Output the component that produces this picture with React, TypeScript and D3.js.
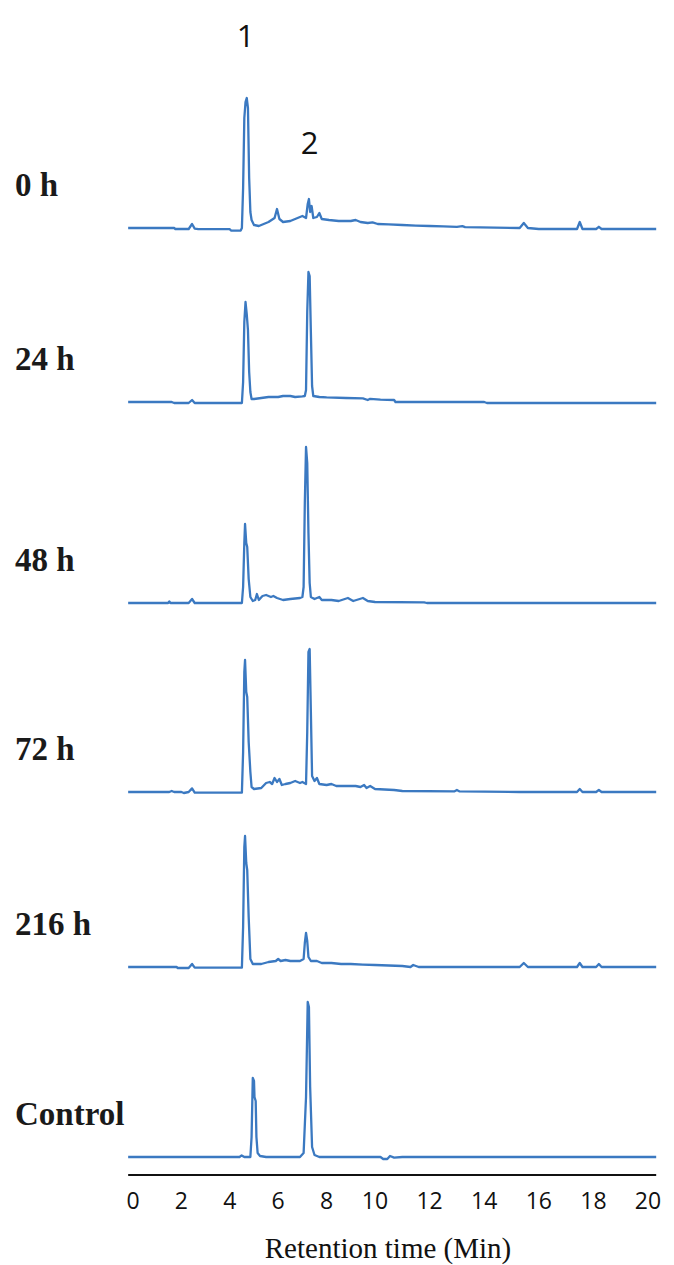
import * as d3 from "d3";

// retention time (min) / signal (mAU) pairs, one array per sample
const trace0h: [number, number][] = [
  [-0.2, 0], [1.7, 0], [1.75, -0.5], [2.3, -0.5], [2.44, 2], [2.55, -0.3], [2.7, -0.6],
  [4.0, -0.6], [4.05, -1.3], [4.45, -1.3], [4.5, 0], [4.55, 20], [4.6, 55], [4.65, 63],
  [4.7, 65], [4.75, 60], [4.8, 25], [4.85, 8], [4.9, 4], [5.0, 1.5], [5.2, 1], [5.4, 2],
  [5.6, 3], [5.85, 5], [5.95, 9.5], [6.05, 4.5], [6.2, 3], [6.5, 3.5], [6.8, 5], [7.0, 6],
  [7.15, 5], [7.22, 12], [7.27, 14.5], [7.32, 8], [7.38, 11], [7.45, 5], [7.6, 5.5],
  [7.7, 7.5], [7.8, 4.5], [8.1, 4], [8.5, 3.5], [9.0, 3.5], [9.2, 4], [9.4, 3], [9.7, 2.5],
  [9.9, 2.8], [10.1, 2], [10.5, 1.8], [11, 1.5], [11.5, 1.2], [12, 1], [12.5, 0.8],
  [13, 0.6], [13.2, 0.9], [13.3, 0.4], [15.3, 0], [15.45, 2.5], [15.6, 0], [16.0, -0.5],
  [17.4, -0.5], [17.5, 3], [17.6, -0.5], [18.1, -0.5], [18.2, 0.6], [18.3, -0.5], [20.3, -0.5],
];

const trace24h: [number, number][] = [
  [-0.2, 0], [1.6, 0], [1.7, -0.5], [2.3, -0.5], [2.44, 1], [2.55, -0.5], [4.5, -0.5],
  [4.55, 10], [4.6, 40], [4.65, 50], [4.7, 44], [4.75, 36], [4.8, 15], [4.85, 5], [4.9, 1.5],
  [5.0, 1.5], [5.3, 2], [5.6, 2.5], [6.0, 2.5], [6.2, 3], [6.5, 3], [6.7, 2.5], [7.0, 2.8],
  [7.1, 3], [7.15, 6], [7.2, 45], [7.25, 65], [7.3, 63], [7.35, 35], [7.4, 8], [7.45, 3],
  [7.7, 2.5], [8.0, 2.3], [8.8, 2], [9.5, 1.8], [9.7, 1], [9.8, 1.6], [10.2, 1.2],
  [10.7, 1], [10.75, 0], [14.0, 0], [14.1, -0.5], [20.3, -0.5],
];

const trace48h: [number, number][] = [
  [-0.2, 0], [1.45, 0], [1.5, 0.8], [1.55, 0], [2.3, 0], [2.44, 2], [2.55, 0], [4.5, 0],
  [4.55, 8], [4.6, 30], [4.63, 39.5], [4.68, 30], [4.72, 28], [4.78, 12], [4.85, 3],
  [4.95, 1], [5.05, 1.5], [5.12, 4.5], [5.2, 1.5], [5.35, 3.5], [5.5, 4], [5.7, 3],
  [5.8, 3.5], [5.95, 2.5], [6.2, 1.5], [6.5, 2], [6.9, 2.5], [7.0, 3], [7.05, 8],
  [7.1, 50], [7.15, 78], [7.2, 70], [7.25, 35], [7.3, 10], [7.35, 3], [7.5, 2],
  [7.7, 3], [7.8, 1.5], [8.2, 1.5], [8.5, 1], [8.88, 2.5], [9.1, 1], [9.5, 2.5],
  [9.7, 1], [10, 0.5], [11.8, 0.3], [11.9, 0], [20.3, 0],
];

const trace72h: [number, number][] = [
  [-0.2, 0], [1.5, 0], [1.6, 0.5], [1.7, 0], [2.0, 0], [2.1, -0.5], [2.3, 0], [2.44, 1.8],
  [2.55, -0.3], [4.5, -0.3], [4.55, 20], [4.6, 60], [4.63, 66], [4.68, 50], [4.72, 47.5],
  [4.78, 25], [4.85, 10], [4.9, 2.5], [5.0, 1.5], [5.3, 2], [5.5, 4.5], [5.65, 5],
  [5.75, 4], [5.85, 7], [5.95, 5], [6.05, 6.5], [6.15, 3.5], [6.3, 4], [6.5, 4.5],
  [6.7, 5.5], [6.9, 4.5], [7.0, 5], [7.15, 4], [7.2, 30], [7.25, 70], [7.3, 71.5],
  [7.35, 40], [7.4, 8], [7.5, 5.5], [7.6, 7], [7.7, 4], [8.0, 3.5], [8.2, 4], [8.4, 3],
  [8.8, 3], [9.2, 3], [9.4, 2.5], [9.55, 3.5], [9.65, 2], [9.8, 3], [10.0, 1.5],
  [10.7, 1], [11.0, 0.5], [12.9, 0.3], [13.0, 1], [13.1, 0.3], [15.3, 0], [17.4, 0],
  [17.5, 1.5], [17.6, 0], [18.1, 0], [18.2, 1], [18.3, 0], [20.3, 0],
];

const trace216h: [number, number][] = [
  [-0.2, 0], [1.8, 0], [1.85, -0.5], [2.3, -0.5], [2.44, 1.5], [2.55, -0.3], [4.5, -0.3],
  [4.55, 20], [4.6, 60], [4.63, 65.5], [4.68, 52], [4.72, 48.5], [4.78, 25], [4.85, 4],
  [4.95, 1.5], [5.3, 1.5], [5.6, 2.5], [5.9, 3], [6.0, 4], [6.1, 3], [6.3, 3.5],
  [6.5, 3], [6.9, 3], [7.05, 4], [7.1, 12], [7.15, 17], [7.2, 13], [7.25, 5], [7.35, 3],
  [7.6, 3], [7.8, 2], [8.2, 2], [8.6, 1.5], [9.0, 1.5], [9.5, 1.2], [10.0, 1], [11.0, 0.5],
  [11.3, 0], [11.4, 1], [11.6, 0], [15.3, 0], [15.45, 2], [15.6, 0], [17.4, 0],
  [17.5, 2], [17.6, 0], [18.1, 0], [18.2, 1.5], [18.3, 0], [20.3, 0],
];

const traceControl: [number, number][] = [
  [-0.2, 0], [4.4, 0], [4.49, 0.8], [4.6, 0], [4.85, 0], [4.9, 10], [4.95, 39.5],
  [5.0, 38], [5.02, 30], [5.07, 28], [5.1, 10], [5.15, 2], [5.25, 0.5], [5.5, 0],
  [6.9, 0], [7.05, 2], [7.15, 30], [7.22, 77.5], [7.27, 75], [7.32, 35], [7.4, 5],
  [7.5, 1], [7.7, 0], [10.2, 0], [10.3, -1], [10.45, -1], [10.55, 0.5], [10.7, -0.3],
  [11, 0], [20.3, 0],
];

const sampleNames = ["0 h", "24 h", "48 h", "72 h", "216 h", "Control"];
const sampleTraces = [trace0h, trace24h, trace48h, trace72h, trace216h, traceControl];
// vertical offset added to each trace (mAU), as stacked in the figure
const sampleOffsets = [464.5, 377.5, 277, 182.5, 95, 0];

const tickValues = [0, 2, 4, 6, 8, 10, 12, 14, 16, 18, 20];
const peakNames = ["1", "2"];
const peakTimes = [4.65, 7.3];
const peakLabelSignals = [555, 501.5];

const W = 674;
const H = 1265;
const LINE = "#3b79c1";

export default function App() {
  const x = d3.scaleLinear().domain([0, 10, 20]).range([133, 375, 648]);
  const y = d3.scaleLinear().domain([0, 530]).range([1157, 97]);

  const allTimes = sampleTraces.flat().map((d) => d[0]);
  const [tMin, tMax] = d3.extent(allTimes) as [number, number];
  const axisY = 1175;

  return (
    <svg
      width={W}
      height={H}
      style={{ position: "absolute", left: 0, top: 0, background: "#fff" }}
    >
      {sampleTraces.map((tr, i) => {
        const line = d3
          .line<[number, number]>()
          .x((d) => x(d[0]))
          .y((d) => y(d[1] + sampleOffsets[i]));
        return (
          <g key={sampleNames[i]}>
            <path
              d={line(tr) || undefined}
              fill="none"
              stroke={LINE}
              strokeWidth={2.3}
              strokeLinejoin="round"
            />
            <text
              x={15}
              y={y(sampleOffsets[i]) - 32}
              fontFamily="'Liberation Serif', serif"
              fontWeight="bold"
              fontSize={33}
              fill="#1a1a1a"
            >
              {sampleNames[i]}
            </text>
          </g>
        );
      })}

      {peakNames.map((p, i) => (
        <text
          key={p}
          x={x(peakTimes[i])}
          y={y(peakLabelSignals[i])}
          textAnchor="middle"
          fontFamily="'Open Sans', sans-serif"
          fontSize={31}
          fill="#111"
        >
          {p}
        </text>
      ))}

      <line
        x1={x(tMin)}
        x2={x(tMax)}
        y1={axisY}
        y2={axisY}
        stroke="#111"
        strokeWidth={2}
      />
      {tickValues.map((t) => (
        <text
          key={t}
          x={x(t)}
          y={1209}
          textAnchor="middle"
          fontFamily="'Open Sans', sans-serif"
          fontSize={23}
          fill="#111"
        >
          {t}
        </text>
      ))}
      <text
        x={388}
        y={1258}
        textAnchor="middle"
        fontFamily="'Liberation Serif', serif"
        fontSize={29}
        fill="#111"
      >
        Retention time (Min)
      </text>
    </svg>
  );
}
